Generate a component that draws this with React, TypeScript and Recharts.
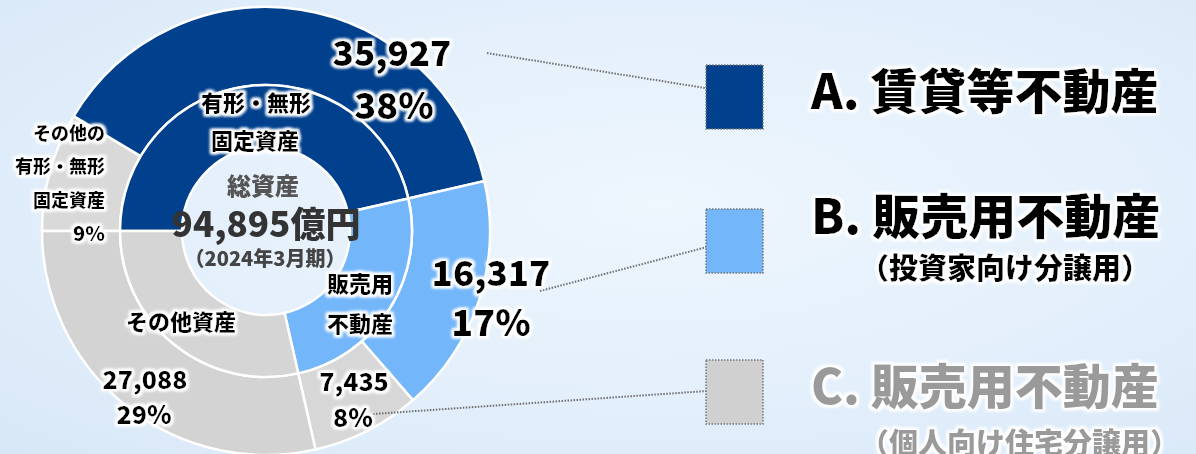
import { PieChart, Pie, Cell } from "recharts";

// 総資産 94,895億円（2024年3月期）
const innerNames = ["有形・無形固定資産", "販売用不動産", "その他資産"];
const innerValues = [44055, 23752, 27088];
const innerColors = ["#00408C", "#74B6FA", "#D5D5D5"];

const outerNames = [
  "その他の有形・無形固定資産",
  "賃貸等不動産",
  "販売用不動産（投資家向け分譲用）",
  "販売用不動産（個人向け住宅分譲用）",
  "その他資産",
];
const outerValues = [8128, 35927, 16317, 7435, 27088];
const outerPercents = ["9%", "38%", "17%", "8%", "29%"];
const outerColors = ["#D9D9D9", "#00408C", "#74B6FA", "#D7D7D7", "#D3D3D3"];

const legendLabels = ["A. 賃貸等不動産", "B. 販売用不動産", "C. 販売用不動産"];
const legendSubLabels = ["", "（投資家向け分譲用）", "（個人向け住宅分譲用）"];
const legendColors = ["#00408C", "#74B6FA", "#D0D0D0"];
const legendTextColors = ["#000", "#000", "#9A9A9A"];

const innerData = innerNames.map((name, i) => ({ name, value: innerValues[i] }));
const outerData = outerNames.map((name, i) => ({ name, value: outerValues[i] }));

const W = 1196;
const H = 454;
const CX = 266;
const CY = 231;
const FONT = '"Noto Sans CJK JP", "Noto Sans", sans-serif';
const fmt = (v: number) => v.toLocaleString("en-US");

const T = ({ x, y, size, children, anchor = "middle", color = "#000", halo = true }: any) => (
  <text
    x={x}
    y={y}
    fontSize={size}
    fontWeight={900}
    fill={color}
    textAnchor={anchor}
    dominantBaseline="central"
    filter={halo ? "url(#glow)" : undefined}
  >
    {children}
  </text>
);

export default function App() {
  return (
    <div
      style={{
        position: "fixed",
        left: 0,
        top: 0,
        width: W,
        height: H,
        overflow: "hidden",
        fontFamily: FONT,
        background:
          "radial-gradient(ellipse at 55% 45%, #EEF6FE 0%, #E3EFFB 55%, #D8E7F7 100%)",
      }}
    >
      <PieChart width={W} height={H} margin={{ top: 0, right: 0, bottom: 0, left: 0 }}>
        <Pie
          data={outerData}
          dataKey="value"
          cx={CX}
          cy={CY}
          innerRadius={146}
          outerRadius={224}
          startAngle={180}
          endAngle={-180}
          stroke="#fff"
          strokeWidth={2.5}
          isAnimationActive={false}
        >
          {outerData.map((_, i) => (
            <Cell key={i} fill={outerColors[i]} />
          ))}
        </Pie>
        <Pie
          data={innerData}
          dataKey="value"
          cx={CX}
          cy={CY}
          innerRadius={84}
          outerRadius={146}
          startAngle={180}
          endAngle={-180}
          stroke="#fff"
          strokeWidth={2.5}
          isAnimationActive={false}
        >
          {innerData.map((_, i) => (
            <Cell key={i} fill={innerColors[i]} />
          ))}
        </Pie>
      </PieChart>

      <svg
        width={W}
        height={H}
        style={{ position: "absolute", left: 0, top: 0, pointerEvents: "none", fontFamily: FONT }}
      >
        <defs>
          <filter id="glow" x="-20%" y="-40%" width="140%" height="180%">
            <feMorphology in="SourceAlpha" operator="dilate" radius="2.2" result="d" />
            <feGaussianBlur in="d" stdDeviation="1.8" result="b" />
            <feFlood floodColor="#ffffff" />
            <feComposite in2="b" operator="in" result="g" />
            <feMerge>
              <feMergeNode in="g" />
              <feMergeNode in="g" />
              <feMergeNode in="SourceGraphic" />
            </feMerge>
          </filter>
        </defs>

        {/* leader lines */}
        <g stroke="#6E6E6E" strokeWidth={2} strokeDasharray="1.5 1.5" fill="none">
          <line x1={487} y1={53} x2={705} y2={88} />
          <line x1={540} y1={291} x2={707} y2={247} />
          <line x1={373} y1={414} x2={707} y2={391} />
        </g>

        {/* legend */}
        {legendLabels.map((label, i) => {
          const sy = [65, 209, 360][i];
          const ty = [88, 213, 383][i];
          return (
            <g key={label}>
              <rect
                x={706}
                y={sy}
                width={57}
                height={64}
                fill={legendColors[i]}
                stroke="#777"
                strokeWidth={1.5}
                strokeDasharray="1.5 1.5"
              />
              <T x={811} y={ty} size={48} anchor="start" color={legendTextColors[i]}>
                {label}
              </T>
              {legendSubLabels[i] && (
                <T x={860} y={[0, 266, 441][i]} size={29} anchor="start" color={legendTextColors[i]}>
                  {legendSubLabels[i]}
                </T>
              )}
            </g>
          );
        })}

        {/* center */}
        <T x={263} y={184} size={24} color="#555" halo={false}>総資産</T>
        <T x={266} y={221} size={35} color="#333" halo={false}>94,895億円</T>
        <T x={265} y={257} size={20} color="#444" halo={false}>（2024年3月期）</T>

        {/* inner ring */}
        <T x={256} y={101} size={22}>有形・無形</T>
        <T x={255} y={139} size={22}>固定資産</T>
        <T x={360} y={282} size={22}>販売用</T>
        <T x={360} y={322} size={22}>不動産</T>
        <T x={181} y={320} size={22}>その他資産</T>

        {/* outer ring */}
        <T x={392} y={50} size={35}>{fmt(outerValues[1])}</T>
        <T x={394} y={103} size={36}>{outerPercents[1]}</T>
        <T x={491} y={270} size={35}>{fmt(outerValues[2])}</T>
        <T x={491} y={320} size={36}>{outerPercents[2]}</T>
        <T x={354} y={380} size={25}>{fmt(outerValues[3])}</T>
        <T x={353} y={416} size={25}>{outerPercents[3]}</T>
        <T x={145} y={378} size={25}>{fmt(outerValues[4])}</T>
        <T x={144} y={413} size={25}>{outerPercents[4]}</T>
        <T x={105} y={132} size={18} anchor="end">その他の</T>
        <T x={105} y={165} size={18} anchor="end">有形・無形</T>
        <T x={105} y={199} size={18} anchor="end">固定資産</T>
        <T x={105} y={232} size={20} anchor="end">{outerPercents[0]}</T>
      </svg>
    </div>
  );
}
